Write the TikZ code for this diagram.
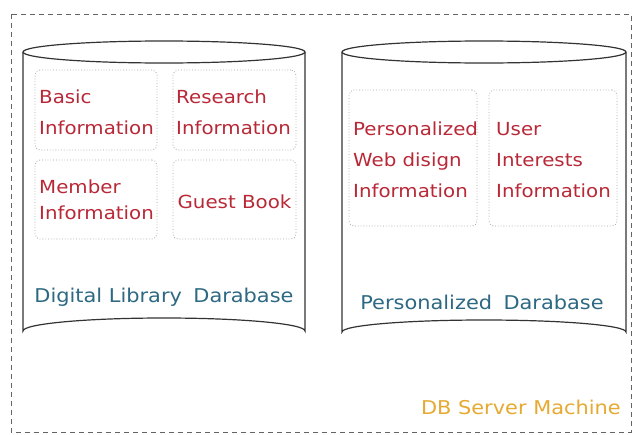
\documentclass[tikz,border=0pt]{standalone}
\usepackage{fontspec}
\setmainfont[FakeStretch=1.1]{DejaVu Sans}
\definecolor{txtred}{RGB}{185,40,55}
\definecolor{txtblue}{RGB}{45,105,130}
\definecolor{txtorange}{RGB}{230,170,50}
\definecolor{frame}{RGB}{100,100,100}
\begin{document}
\begin{tikzpicture}[x=1pt,y=-1pt,
  cyl/.style={draw=black!80,line width=1.2pt},
  infobox/.style={draw=black!35,dotted,line width=0.8pt,rounded corners=5pt},
  redtxt/.style={text=txtred,font=\fontsize{18}{31}\selectfont,align=left,inner sep=0pt},
  bluetxt/.style={text=txtblue,font=\fontsize{19}{22}\selectfont,inner sep=0pt},
]
\useasboundingbox (0,0) rectangle (634,434);
\fill[white] (0,0) rectangle (634,434);
% outer machine frame
\draw[frame,dash pattern=on 5pt off 4pt,line width=1pt] (11,14) rectangle (631,432);
% cylinder 1
\draw[cyl] (23,52) -- (23,331) arc[start angle=180,end angle=360,x radius=141,y radius=13] -- (305,52);
\draw[cyl] (164,52) ellipse[x radius=141,y radius=11];
% cylinder 2
\draw[cyl] (342,52) -- (342,332) arc[start angle=180,end angle=360,x radius=142,y radius=12] -- (626,52);
\draw[cyl] (484,52) ellipse[x radius=142,y radius=11];
% boxes cylinder 1
\node[infobox,minimum width=122,minimum height=80] (b1) at (96,110) {};
\node[infobox,minimum width=123,minimum height=80] (b2) at (234.5,110) {};
\node[infobox,minimum width=122,minimum height=79] (b3) at (96,199.5) {};
\node[infobox,minimum width=123,minimum height=79] (b4) at (234.5,199.5) {};
\node[redtxt,anchor=west] (t1) at (39,112.5) {Basic\\Information};
\node[redtxt,anchor=west] (t2) at (176,112.5) {Research\\Information};
\node[redtxt,anchor=west,font=\fontsize{18}{26}\selectfont] (t3) at (39,200) {Member\\Information};
\node[redtxt] (t4) at (234.5,202) {Guest Book};
\node[bluetxt] (l1) at (164,297) {Digital Library\hspace{0.6em}Darabase};
% boxes cylinder 2
\node[infobox,minimum width=128,minimum height=136] (b5) at (413,158) {};
\node[infobox,minimum width=128,minimum height=136] (b6) at (553,158) {};
\node[redtxt,anchor=west] (t5) at (353,160) {Personalized\\Web disign\\Information};
\node[redtxt,anchor=west] (t6) at (496,160) {User\\Interests\\Information};
\node[bluetxt] (l2) at (482,302) {Personalized\hspace{0.6em}Darabase};
% machine label
\node[text=txtorange,font=\fontsize{19}{22}\selectfont,anchor=east,inner sep=0pt] (m) at (621,407) {DB Server Machine};
\end{tikzpicture}
\end{document}
